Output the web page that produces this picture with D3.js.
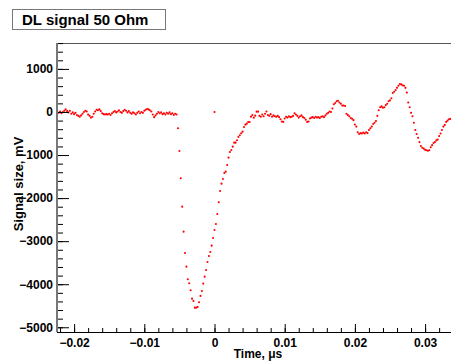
<!DOCTYPE html>
<html>
<head>
<meta charset="utf-8">
<script src="https://cdn.jsdelivr.net/npm/d3@7"></script>
<style>
  body { margin: 0; background: #fff; }
  text { font-family: "Liberation Sans", Arial, Helvetica, sans-serif; font-weight: bold; fill: #000; }
</style>
</head>
<body>
<svg id="root"></svg>
<script>
// sampling of the scope trace
const t0 = -0.0222;   // time of first sample, us
const dt = 0.0002;    // sample step, us

// signal values, mV, one per sample
const baseline = [
  -20, 10, -30, 0, 30, 60, 20, -10, 30, -40,
  -10, -50, -20, -70, -90, -110, -80, -40, 0, 30,
  10, -60, -90, -130, -110, -40, 10, 50, 40, 60,
  20, -30, -50, -60, -50, -60, -40, -70, -30, 0,
  20, -10, 10, 40, 0, -20, 20, 50, 30, -10,
  20, -20, -40, -10, -30, -60, -20, 10, -30, 0,
  -20, 30, 50, 70, 60, 40, 10, -60, -120, -80,
  -40, 0, -30, -10, -50, -30, -60, -20, -40, -10,
  -50, -30, -70, -40, -60
];
const pulse = [
  -379, -906, -1540, -2199, -2779, -3274, -3592, -3886, -3978, -4141,
  -4335, -4389, -4544, -4544, -4528, -4419, -4272, -4157, -3986, -3824,
  -3669, -3483, -3344, -3251, -3104, -2926, -2740, -2601, -2368, -2097,
  -1834, -1665, -1556, -1416, -1386, -1231, -1061, -929, -882, -805,
  -712, -712, -658, -580, -542, -495, -457, -348, -294, -271,
  -232, -232, -108, -70, -132, -85, 8, 8
];
const tail = [
  -90, -110, -60, -100, -40, 10, -70,
  -90, -50, -110, -80, -100, -110, -90, -120, -170, -220,
  -230, -150, -110, -130, -100, -120, -110, -90, -30, -60,
  -90, -130, -100, -80, -120, -140, -180, -230, -220, -150,
  -130, -120, -140, -110, -130, -120, -140, -110, -100, -120,
  -80, -40, -20, 10, 0, 80, 180, 210, 250, 260,
  220, 190, 150, 150, 140, -40, -70, -100, -140, -160,
  -190, -290, -340, -470, -510, -490, -500, -480, -500, -470,
  -490, -420, -380, -340, -280, -250, -210, -90, 40, 110,
  130, 100, 110, 160, 190, 250, 270, 320, 440, 470,
  510, 560, 610, 650, 640, 620, 610, 560, 450, 220,
  110, -20, -100, -250, -420, -510, -600, -700, -790, -830,
  -850, -880, -890, -900, -890, -820, -770, -720, -700, -660,
  -640, -560, -500, -420, -340, -300, -230, -200, -170, -160
];
// stray point of the graph sitting at the origin
const strayT = [0];
const strayV = [0];

const xMajor = [-0.02, -0.01, 0, 0.01, 0.02, 0.03];
const yMajor = [-5000, -4000, -3000, -2000, -1000, 0, 1000];

const titleText = 'DL signal 50 Ohm';
const xTitle = 'Time, \u03bcs';
const yTitle = 'Signal size, mV';

const W = 451, H = 361;
const frame = { left: 57, right: 452, top: 43, bottom: 332 };

const values = baseline.concat(pulse, tail);
const points = values.map((v, i) => ({ t: t0 + i * dt, v: v }))
  .concat(strayT.map((t, i) => ({ t: t, v: strayV[i] })));

const x = d3.scaleLinear()
  .domain([-0.022436, 0.033832])
  .range([frame.left, frame.right]);
const y = d3.scaleLinear()
  .domain([-5110, 1602])
  .range([frame.bottom, frame.top]);

const svg = d3.select('#root')
  .attr('width', W)
  .attr('height', H);

svg.append('rect').attr('width', W).attr('height', H).attr('fill', '#fff');

// frame top line
svg.append('line')
  .attr('x1', frame.left).attr('x2', frame.right)
  .attr('y1', frame.top + 0.5).attr('y2', frame.top + 0.5)
  .attr('stroke', '#555');

// markers
svg.append('g')
  .selectAll('circle')
  .data(points)
  .enter()
  .append('circle')
    .attr('cx', d => x(d.t))
    .attr('cy', d => y(d.v))
    .attr('r', 1.05)
    .attr('fill', '#f00');

// y axis: minor ticks then major ticks with labels
const yMinor = d3.range(-5000, 1601, 200);
svg.append('g')
  .attr('transform', `translate(${frame.left}, 0)`)
  .call(d3.axisLeft(y).tickValues(yMinor).tickSize(-6).tickFormat(''))
  .call(g => g.select('.domain').remove());
const yAxis = svg.append('g')
  .attr('transform', `translate(${frame.left}, 0)`)
  .call(d3.axisLeft(y).tickValues(yMajor).tickSize(-12).tickPadding(4).tickFormat(d3.format('d')));
yAxis.select('.domain').remove();
yAxis.selectAll('text').attr('font-size', 12).style('font-family', null);
svg.append('line')
  .attr('x1', frame.left).attr('x2', frame.left)
  .attr('y1', frame.top).attr('y2', frame.bottom)
  .attr('stroke', '#777').attr('stroke-width', 2);

// x axis
const xMinor = d3.range(-0.022, 0.0339, 0.002);
svg.append('g')
  .attr('transform', `translate(0, ${frame.bottom})`)
  .call(d3.axisBottom(x).tickValues(xMinor).tickSize(-4).tickFormat(''))
  .call(g => g.select('.domain').remove());
const xAxis = svg.append('g')
  .attr('transform', `translate(0, ${frame.bottom})`)
  .call(d3.axisBottom(x).tickValues(xMajor).tickSize(-8).tickPadding(6).tickFormat(d => d === 0 ? '0' : d3.format('.2f')(d)));
xAxis.select('.domain').remove();
xAxis.selectAll('text').attr('font-size', 12).style('font-family', null);
svg.append('line')
  .attr('x1', frame.left).attr('x2', frame.right)
  .attr('y1', frame.bottom + 0.5).attr('y2', frame.bottom + 0.5)
  .attr('stroke', '#000');

// axis titles
svg.append('text')
  .attr('x', 258)
  .attr('y', 358)
  .attr('text-anchor', 'middle')
  .attr('font-size', 12)
  .text(xTitle);
svg.append('text')
  .attr('transform', 'translate(23, 184) rotate(-90)')
  .attr('text-anchor', 'middle')
  .attr('font-size', 13)
  .text(yTitle);

// title box
svg.append('rect')
  .attr('x', 12.5).attr('y', 9.5)
  .attr('width', 153).attr('height', 20)
  .attr('fill', '#fff')
  .attr('stroke', '#777');
svg.append('text')
  .attr('x', 22)
  .attr('y', 25)
  .attr('font-size', 15)
  .text(titleText);
</script>
</body>
</html>
